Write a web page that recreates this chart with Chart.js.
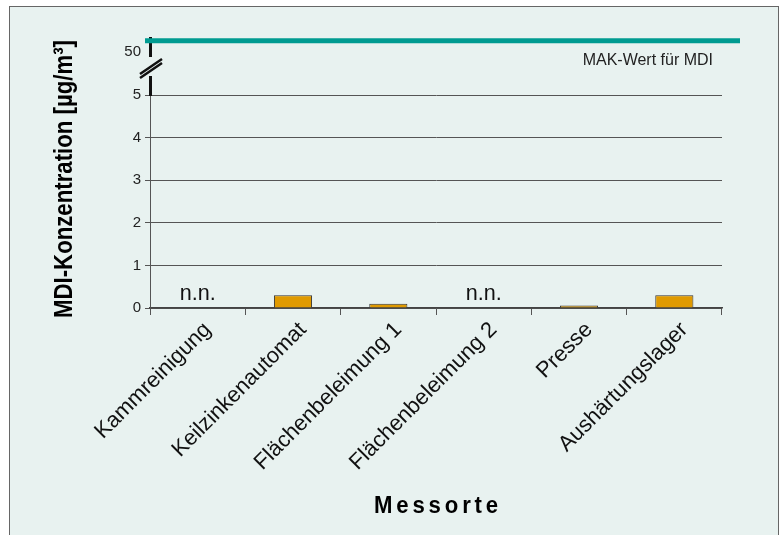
<!DOCTYPE html>
<html lang="de">
<head>
<meta charset="UTF-8">
<title>MDI-Konzentration</title>
<script src="https://cdn.jsdelivr.net/npm/chart.js@4.4.0/dist/chart.umd.min.js"></script>
<style>
    body { margin: 0; background: #fff; overflow: hidden; }
    .frame {
        position: absolute; left: 9px; top: 6px; width: 768px; height: 600px;
        border: 1.5px solid #666; background: #e8f2f0;
    }
    #wrap { position: absolute; left: 0; top: 0; width: 783px; height: 535px; }
</style>
</head>
<body>
<div class="frame"></div>
<div id="wrap"><canvas id="chart" width="783" height="535"></canvas></div>
<script>
    // data
    const categories = ['Kammreinigung', 'Keilzinkenautomat', 'Flächenbeleimung 1', 'Flächenbeleimung 2', 'Presse', 'Aushärtungslager'];
    const concentrations = [null, 0.3, 0.1, null, 0.06, 0.3];   // null = n.n.
    const yTicks = [0, 1, 2, 3, 4, 5];
    const makValue = 50;
    const makLabel = 'MAK-Wert für MDI';

    const SANS = "'Liberation Sans', Arial, sans-serif";
    const BG = '#e8f2f0';

    const extras = {
        id: 'extras',
        afterDatasetsDraw(chart) {
            const ctx = chart.ctx, x = chart.scales.x, y = chart.scales.y, yTop = chart.scales.yTop;
            const area = chart.chartArea;
            ctx.save();
            // n.n. labels
            ctx.fillStyle = '#111';
            ctx.font = '22px ' + SANS;
            ctx.textAlign = 'center';
            ctx.textBaseline = 'alphabetic';
            concentrations.forEach((v, i) => {
                if (v === null) ctx.fillText('n.n.', x.getPixelForValue(i), y.getPixelForValue(0) - 8, 36);
            });
            // axis break
            const ax = area.left;
            ctx.fillStyle = BG;
            ctx.fillRect(ax - 4, 57, 8, 19);
            ctx.strokeStyle = '#111';
            ctx.lineWidth = 2.5;
            ctx.beginPath();
            ctx.moveTo(ax - 10, 74); ctx.lineTo(ax + 12, 59);
            ctx.moveTo(ax - 10, 78); ctx.lineTo(ax + 12, 63);
            ctx.stroke();
            // MAK line
            const ym = yTop.getPixelForValue(makValue);
            ctx.strokeStyle = '#009b91';
            ctx.lineWidth = 5;
            ctx.beginPath();
            ctx.moveTo(area.left - 5, ym);
            ctx.lineTo(area.right + 18, ym);
            ctx.stroke();
            ctx.fillStyle = '#222';
            ctx.font = '16px ' + SANS;
            ctx.textAlign = 'right';
            ctx.textBaseline = 'middle';
            ctx.fillText(makLabel, area.right - 9, ym + 20, 131);
            // axis titles
            ctx.fillStyle = '#000';
            ctx.font = 'bold 26px ' + SANS;
            ctx.textAlign = 'center';
            ctx.textBaseline = 'alphabetic';
            ctx.translate(72, 179);
            ctx.rotate(-Math.PI / 2);
            ctx.fillText('MDI-Konzentration [µg/m³]', 0, 0, 278);
            ctx.setTransform(1, 0, 0, 1, 0, 0);
            ctx.font = 'bold 23px ' + SANS;
            ctx.letterSpacing = '4px';
            ctx.fillText('Messorte', (area.left + area.right) / 2 + 2, 513, 128);
            ctx.restore();
        }
    };

    new Chart(document.getElementById('chart'), {
        type: 'bar',
        data: {
            labels: categories,
            datasets: [{
                data: concentrations,
                yAxisID: 'y',
                backgroundColor: '#e09a00',
                borderColor: '#333',
                borderWidth: 1,
                borderSkipped: 'bottom',
                barPercentage: 0.4,
                categoryPercentage: 1
            }]
        },
        options: {
            responsive: false,
            animation: false,
            devicePixelRatio: 1,
            layout: { padding: { top: 38, right: 61, left: 0, bottom: 0 } },
            plugins: { legend: { display: false }, tooltip: { enabled: false } },
            scales: {
                x: {
                    grid: { offset: true, drawOnChartArea: false, tickLength: 7, color: '#555' },
                    border: { color: '#444', width: 1.5 },
                    ticks: { maxRotation: 45, minRotation: 45, color: '#111', font: { family: SANS, size: 22 }, padding: 2, labelOffset: 10 },
                    afterFit(s) { s.height = 227; }
                },
                y: {
                    stack: 'v', stackWeight: 213, weight: 1,
                    min: 0, max: 5,
                    afterBuildTicks(s) { s.ticks = yTicks.map(v => ({ value: v })); },
                    grid: { color: '#555', lineWidth: 1, tickLength: 5 },
                    border: { color: '#555', width: 1 },
                    ticks: { color: '#222', font: { family: SANS, size: 15 }, padding: 4 },
                    afterFit(s) { s.width = 150; }
                },
                yTop: {
                    type: 'linear', position: 'left', stack: 'v', stackWeight: 57, weight: 2,
                    min: 10, max: 52,
                    afterBuildTicks(s) { s.ticks = [{ value: makValue }]; },
                    grid: { display: false, drawTicks: false },
                    border: { color: '#111', width: 3 },
                    ticks: { color: '#222', font: { family: SANS, size: 15 }, padding: 9, labelOffset: 11 },
                    afterFit(s) { s.width = 150; }
                }
            }
        },
        plugins: [extras]
    });
</script>
</body>
</html>
